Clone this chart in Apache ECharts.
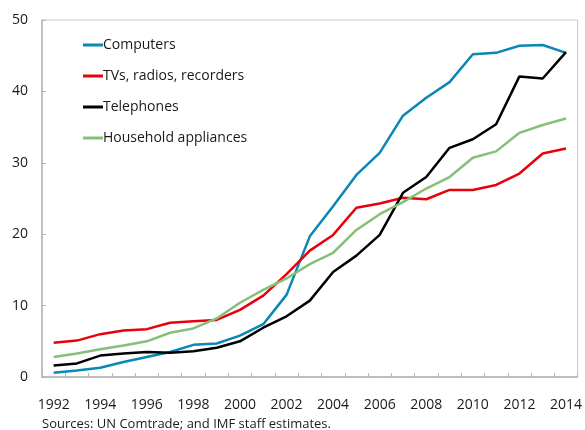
<!DOCTYPE html>
<html>
<head>
<meta charset="utf-8">
<script src="https://cdn.jsdelivr.net/npm/echarts@6/dist/echarts.min.js"></script>
<style>
html, body { margin: 0; padding: 0; background: #fff; }
#main { width: 585px; height: 430px; }
</style>
</head>
<body>
<div id="main"></div>
<script>
// years on the x axis
var years = ['1992', '1993', '1994', '1995', '1996', '1997', '1998', '1999', '2000', '2001', '2002',
	'2003', '2004', '2005', '2006', '2007', '2008', '2009', '2010', '2011', '2012', '2013', '2014'];

// values
var computers = [0.6, 0.9, 1.3, 2.1, 2.8, 3.5, 4.5, 4.7, 5.8, 7.4, 11.5, 19.7, 23.9, 28.3, 31.4, 36.6, 39.1, 41.3, 45.2, 45.4, 46.4, 46.5, 45.4];
var tvs = [4.8, 5.1, 6.0, 6.5, 6.7, 7.6, 7.8, 8.0, 9.4, 11.4, 14.4, 17.7, 19.9, 23.7, 24.3, 25.1, 24.9, 26.2, 26.2, 26.9, 28.5, 31.3, 32.0];
var telephones = [1.6, 1.9, 3.0, 3.3, 3.5, 3.4, 3.6, 4.1, 5.0, 6.9, 8.5, 10.7, 14.7, 17.0, 19.9, 25.8, 28.0, 32.1, 33.3, 35.4, 42.1, 41.8, 45.5];
var household = [2.8, 3.3, 3.9, 4.4, 5.0, 6.2, 6.8, 8.2, 10.4, 12.2, 13.8, 15.8, 17.4, 20.6, 22.8, 24.5, 26.4, 28.0, 30.7, 31.6, 34.2, 35.3, 36.2];

var seriesNames = ['Computers', 'TVs, radios, recorders', 'Telephones', 'Household appliances'];
var seriesColors = ['#0a87b2', '#e8000b', '#000000', '#86bf77'];
var seriesData = [computers, tvs, telephones, household];

var font = 'Open Sans';
var myChart = echarts.init(document.getElementById('main'));

var series = [];
for (var i = 0; i < seriesNames.length; i++) {
	series.push({
		name: seriesNames[i],
		type: 'line',
		data: seriesData[i],
		symbol: 'none',
		lineStyle: { width: 2.5, color: seriesColors[i] },
		itemStyle: { color: seriesColors[i] }
	});
}

myChart.setOption({
	animation: false,
	textStyle: { fontFamily: font },
	grid: {
		left: 42, right: 7, top: 20, bottom: 53,
		show: true, borderColor: '#c8c8c8', borderWidth: 1
	},
	legend: {
		orient: 'vertical',
		left: 78, top: 33,
		itemWidth: 20, itemHeight: 3,
		itemGap: 17,
		icon: 'rect',
		textStyle: { fontFamily: font, fontSize: 14, color: '#1a1a1a', padding: [0, 0, 0, -5] },
		data: seriesNames
	},
	xAxis: {
		type: 'category',
		data: years,
		boundaryGap: true,
		axisLine: { lineStyle: { color: '#b4b4b4', width: 1.5 } },
		axisTick: { show: true, inside: true, length: 4, interval: 0, lineStyle: { color: '#b4b4b4' } },
		axisLabel: { interval: 1, margin: 21, fontSize: 14, color: '#1a1a1a', fontFamily: font }
	},
	yAxis: {
		type: 'value',
		min: 0, max: 50, interval: 10,
		axisLine: { show: true, lineStyle: { color: '#b4b4b4', width: 1.5 } },
		axisTick: { show: true, inside: true, length: 4, lineStyle: { color: '#b4b4b4' } },
		splitLine: { show: false },
		axisLabel: { margin: 14, fontSize: 14, color: '#1a1a1a', fontFamily: font }
	},
	graphic: [{
		type: 'text',
		left: 42, top: 418,
		style: { text: 'Sources: UN Comtrade; and IMF staff estimates.', fontSize: 13, fill: '#1a1a1a', fontFamily: font }
	}],
	series: series
});
</script>
</body>
</html>
